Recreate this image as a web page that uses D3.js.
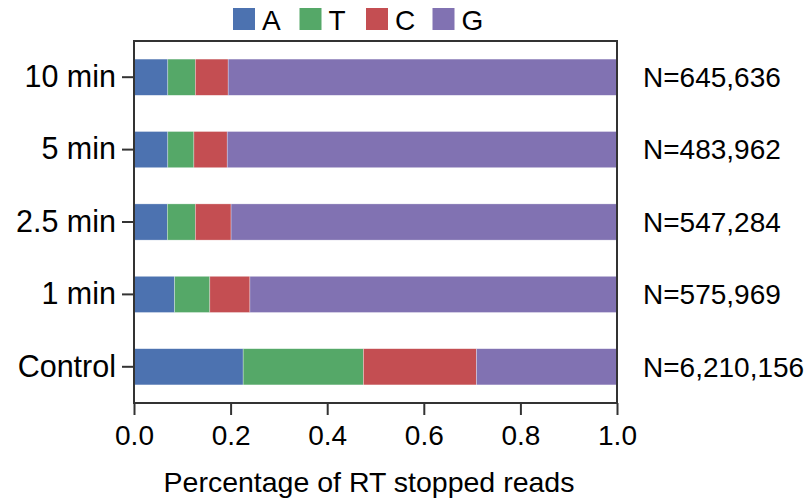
<!DOCTYPE html>
<html>
<head>
<meta charset="utf-8">
<script src="https://cdn.jsdelivr.net/npm/d3@7"></script>
<style>
  body { margin: 0; background: #fff; }
  text { font-family: "Liberation Sans", Arial, Helvetica, sans-serif; fill: #000; }
</style>
</head>
<body>
<div id="chart"><svg></svg></div>
<script>
// categories, top to bottom
const conditions = ["10 min", "5 min", "2.5 min", "1 min", "Control"];
const bases = ["A", "T", "C", "G"];
// fraction of RT stopped reads per base, one array per base
const fracA = [0.070, 0.070, 0.069, 0.084, 0.226];
const fracT = [0.057, 0.054, 0.058, 0.073, 0.249];
const fracC = [0.068, 0.069, 0.074, 0.083, 0.234];
const fracG = [0.805, 0.807, 0.799, 0.760, 0.291];
const readCounts = ["N=645,636", "N=483,962", "N=547,284", "N=575,969", "N=6,210,156"];
const xTicks = [0, 0.2, 0.4, 0.6, 0.8, 1.0];
const baseColors = ["#4c72b0", "#55a868", "#c44e52", "#8172b2"];

const w = 808;
const h = 504;
const margin = { top: 41, right: 191, bottom: 101, left: 134 };

const svg = d3.select("#chart svg")
  .attr("width", w)
  .attr("height", h);

// build rows for the stack
const rows = conditions.map((c, i) => ({
  cond: c, A: fracA[i], T: fracT[i], C: fracC[i], G: fracG[i]
}));
const series = d3.stack().keys(bases)(rows);

const x = d3.scaleLinear()
  .domain([0, 1])
  .range([margin.left, w - margin.right]);

const y = d3.scaleBand()
  .domain(conditions)
  .range([margin.top, h - margin.bottom])
  .paddingInner(0.5)
  .paddingOuter(0.25);

const color = d3.scaleOrdinal().domain(bases).range(baseColors);

// bars
svg.append("g")
  .selectAll("g")
  .data(series)
  .join("g")
  .attr("fill", d => color(d.key))
  .selectAll("rect")
  .data(d => d)
  .join("rect")
  .attr("x", d => x(d[0]))
  .attr("y", d => y(d.data.cond))
  .attr("width", d => x(d[1]) - x(d[0]))
  .attr("height", y.bandwidth())
  .attr("stroke", "#fff")
  .attr("stroke-opacity", 0.5)
  .attr("stroke-width", 0.6);

// frame
svg.append("rect")
  .attr("x", x(0))
  .attr("y", margin.top)
  .attr("width", x(1) - x(0))
  .attr("height", h - margin.bottom - margin.top)
  .attr("fill", "none")
  .attr("stroke", "#333")
  .attr("stroke-width", 2);

// x axis
const xAxis = svg.append("g")
  .attr("transform", `translate(0,${h - margin.bottom})`)
  .call(d3.axisBottom(x).tickValues(xTicks).tickFormat(d3.format(".1f")).tickSize(12).tickPadding(10));
xAxis.select(".domain").remove();
xAxis.selectAll("line").attr("stroke", "#333").attr("stroke-width", 2);
xAxis.selectAll("text").style("font-size", "28px");

// y axis
const yAxis = svg.append("g")
  .attr("transform", `translate(${margin.left},0)`)
  .call(d3.axisLeft(y).tickSize(12).tickPadding(6));
yAxis.select(".domain").remove();
yAxis.selectAll("line").attr("stroke", "#333").attr("stroke-width", 2);
yAxis.selectAll("text").style("font-size", "30.5px");

// read counts on the right
svg.append("g")
  .selectAll("text")
  .data(readCounts)
  .join("text")
  .attr("x", x(1) + 26)
  .attr("y", (d, i) => y(conditions[i]) + y.bandwidth() / 2)
  .attr("dy", "0.35em")
  .style("font-size", "28px")
  .text(d => d);

// x label
svg.append("text")
  .attr("x", 369)
  .attr("y", 492)
  .attr("text-anchor", "middle")
  .style("font-size", "28.5px")
  .text("Percentage of RT stopped reads");

// legend
const legend = svg.append("g")
  .selectAll("g")
  .data(bases)
  .join("g")
  .attr("transform", (d, i) => `translate(${233 + i * 66.5},8)`);
legend.append("rect")
  .attr("width", 22)
  .attr("height", 22)
  .attr("fill", d => color(d));
legend.append("text")
  .attr("x", 29)
  .attr("y", 22)
  .style("font-size", "28px")
  .text(d => d);
</script>
</body>
</html>
